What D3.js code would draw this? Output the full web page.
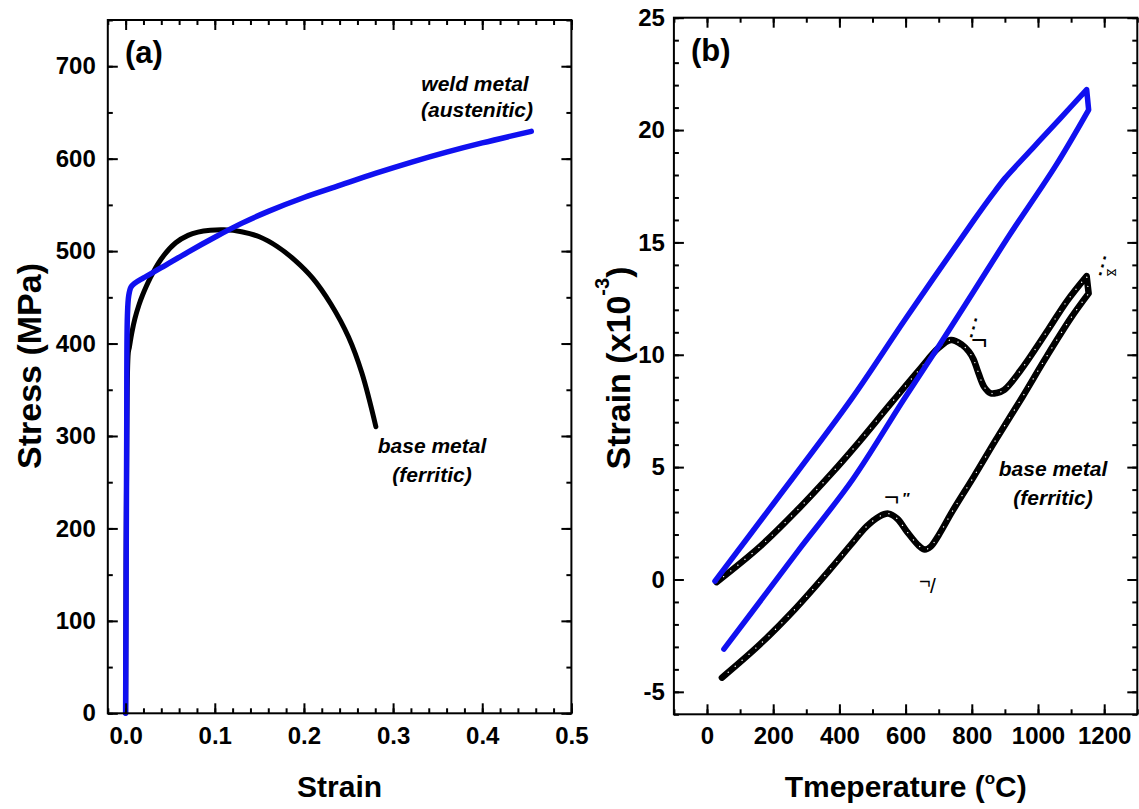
<!DOCTYPE html>
<html><head><meta charset="utf-8">
<script src="https://cdn.jsdelivr.net/npm/d3@7"></script>
<style>
html,body{margin:0;padding:0;background:#fff;}
svg{display:block;font-family:"Liberation Sans",Arial,Helvetica,sans-serif;}
</style></head><body>
<svg id="chart" width="1139" height="809"></svg>
<script>
// ---------- Panel (a): engineering stress-strain ----------
const weldStrain = [0, 0.0012, 0.002, 0.0035, 0.006, 0.01, 0.02, 0.04, 0.07, 0.10, 0.13, 0.16, 0.20, 0.24, 0.28, 0.32, 0.36, 0.40, 0.455];
const weldStress = [0, 300, 430, 452, 461, 465, 471, 482, 499, 515, 530, 543, 558, 571, 584, 596, 607, 617, 629.5];
const baseStrain = [0, 0.0013, 0.003, 0.0042, 0.007, 0.0104, 0.015, 0.0188, 0.0271, 0.0395, 0.0562, 0.07, 0.0811, 0.095, 0.1102, 0.13, 0.15, 0.17, 0.19, 0.21, 0.23, 0.25, 0.265, 0.2807];
const baseStress = [0, 300, 390, 396, 412, 427, 442, 452, 470, 491, 509, 517, 520.5, 522.5, 523, 521, 515.5, 505, 490, 470.5, 443, 407, 368, 310];

// ---------- Panel (b): dilatometry (strain x10^-3 vs temperature) ----------
const weldHeatT   = [24, 200, 435, 600, 807, 860, 900, 940, 1000, 1066, 1147];
const weldHeatDil = [-0.07, 3.36, 8.0, 11.6, 16.0, 17.08, 17.85, 18.5, 19.45, 20.5, 21.8];
const weldCoolT   = [1153, 1055, 915, 807, 699, 594, 440, 278, 200, 51];
const weldCoolDil = [20.9, 18.45, 15.35, 12.85, 10.36, 8.0, 4.45, 1.33, -0.2, -3.1];
const baseHeatT   = [29, 159, 267, 375, 461, 548, 645, 699, 737, 770, 791, 805, 817, 837, 857, 875, 898, 948, 1030, 1088, 1147];
const baseHeatDil = [-0.12, 1.45, 3.0, 4.7, 6.15, 7.7, 9.4, 10.3, 10.66, 10.45, 10.14, 9.8, 9.32, 8.58, 8.29, 8.3, 8.44, 9.32, 11.1, 12.4, 13.5];
const baseCoolT   = [1153, 1100, 1023, 952, 872, 807, 742, 699, 675, 658, 640, 603, 575, 548, 520, 483, 432, 375, 267, 159, 45];
const baseCoolDil = [12.73, 11.65, 9.85, 8.1, 6.2, 4.6, 3.05, 1.95, 1.45, 1.33, 1.5, 2.15, 2.7, 2.93, 2.8, 2.37, 1.5, 0.5, -1.3, -2.9, -4.37];

// ---------- ticks ----------
const aXTicks = [0, 0.1, 0.2, 0.3, 0.4, 0.5];
const aXTickLabels = ["0.0", "0.1", "0.2", "0.3", "0.4", "0.5"];
const aYTicks = [0, 100, 200, 300, 400, 500, 600, 700];
const aYTickLabels = ["0", "100", "200", "300", "400", "500", "600", "700"];
const bXTicks = [0, 200, 400, 600, 800, 1000, 1200];
const bXTickLabels = ["0", "200", "400", "600", "800", "1000", "1200"];
const bYTicks = [-5, 0, 5, 10, 15, 20, 25];
const bYTickLabels = ["-5", "0", "5", "10", "15", "20", "25"];

const BLUE = "#1010f0";
const svg = d3.select("#chart");

const xA = d3.scaleLinear().domain([-0.02, 0.5]).range([107.8, 571.4]);
const yA = d3.scaleLinear().domain([0, 750]).range([713.3, 20]);
const xB = d3.scaleLinear().domain([-100, 1300]).range([673.9, 1137.3]);
const yB = d3.scaleLinear().domain([-6, 25]).range([714.3, 17.7]);

function styleAxis(g){
  g.select(".domain").remove();
  g.selectAll(".tick line").attr("stroke","#000").attr("stroke-width",2);
  g.selectAll(".tick text").style("font-size","24px").style("font-weight","bold")
    .style("font-family",'"Liberation Sans",Arial,sans-serif').attr("fill","#000");
}

function frame(x, y, xMaj, xLab, xMin, yMaj, yLab, yMin, xPad, yPad){
  const [x0,x1] = x.range(), [y0,y1] = y.range();
  const g = svg.append("g");
  g.append("g").attr("transform",`translate(0,${y0})`).call(d3.axisBottom(x).tickValues(xMin).tickSize(-5).tickFormat("")).call(styleAxis);
  g.append("g").attr("transform",`translate(0,${y0})`).call(d3.axisBottom(x).tickValues(xMaj).tickSize(-10).tickPadding(xPad).tickFormat((d,i)=>xLab[i])).call(styleAxis);
  g.append("g").attr("transform",`translate(0,${y1})`).call(d3.axisTop(x).tickValues(xMin).tickSize(-5).tickFormat("")).call(styleAxis);
  g.append("g").attr("transform",`translate(0,${y1})`).call(d3.axisTop(x).tickValues(xMaj).tickSize(-10).tickFormat("")).call(styleAxis);
  g.append("g").attr("transform",`translate(${x0},0)`).call(d3.axisLeft(y).tickValues(yMin).tickSize(-5).tickFormat("")).call(styleAxis);
  g.append("g").attr("transform",`translate(${x0},0)`).call(d3.axisLeft(y).tickValues(yMaj).tickSize(-10).tickPadding(yPad).tickFormat((d,i)=>yLab[i])).call(styleAxis);
  g.append("g").attr("transform",`translate(${x1},0)`).call(d3.axisRight(y).tickValues(yMin).tickSize(-5).tickFormat("")).call(styleAxis);
  g.append("g").attr("transform",`translate(${x1},0)`).call(d3.axisRight(y).tickValues(yMaj).tickSize(-10).tickFormat("")).call(styleAxis);
  g.append("rect").attr("x",x0).attr("y",y1).attr("width",x1-x0).attr("height",y0-y1)
    .attr("fill","none").attr("stroke","#000").attr("stroke-width",2);
}

// ---- curves ----
const lineA = d3.line().x(d=>xA(d[0])).y(d=>yA(d[1])).curve(d3.curveCatmullRom.alpha(0.5));
const lineB = d3.line().x(d=>xB(d[0])).y(d=>yB(d[1])).curve(d3.curveCatmullRom.alpha(0.5));
const zip = (a,b) => a.map((v,i)=>[v,b[i]]);

svg.append("path").attr("d", lineA(zip(baseStrain, baseStress))).attr("fill","none").attr("stroke","#000").attr("stroke-width",5).attr("stroke-linecap","round");
svg.append("path").attr("d", lineA(zip(weldStrain, weldStress))).attr("fill","none").attr("stroke",BLUE).attr("stroke-width",5.5).attr("stroke-linecap","round").attr("stroke-linejoin","round");

// heating curve, straight drop at max temperature, cooling curve
function loopPath(hT, hD, cT, cD){
  return lineB(zip(hT,hD)) + lineB(zip(cT,cD)).replace(/^M/, "L");
}
const basePath = loopPath(baseHeatT, baseHeatDil, baseCoolT, baseCoolDil);
const weldPath = loopPath(weldHeatT, weldHeatDil, weldCoolT, weldCoolDil);
svg.append("path").attr("d", basePath).attr("fill","none").attr("stroke","#000").attr("stroke-width",6.5).attr("stroke-linecap","round").attr("stroke-linejoin","round");
svg.append("path").attr("d", basePath).attr("fill","none").attr("stroke","#fff").attr("stroke-width",1.3).attr("stroke-linecap","round").attr("stroke-dasharray","0.1 9");
svg.append("path").attr("d", weldPath).attr("fill","none").attr("stroke",BLUE).attr("stroke-width",5.5).attr("stroke-linecap","round").attr("stroke-linejoin","round");

// ---- frames ----
const aXMinor = d3.range(-0.02, 0.5001, 0.02);
const aYMinor = d3.range(0, 750.1, 50);
const bXMinor = d3.range(-100, 1300.1, 100);
const bYMinor = d3.range(-6, 25.01, 1);
frame(xA, yA, aXTicks, aXTickLabels, aXMinor, aYTicks, aYTickLabels, aYMinor, 14, 12);
frame(xB, yB, bXTicks, bXTickLabels, bXMinor, bYTicks, bYTickLabels, bYMinor, 13, 9);

// ---- texts ----
function txt(x, y, s, size, opts={}){
  const t = svg.append("text").attr("x",x).attr("y",y).text(s)
    .attr("font-size",size).attr("font-weight",opts.weight||"bold")
    .attr("font-style",opts.style||"normal").attr("text-anchor",opts.anchor||"start").attr("fill","#000");
  if(opts.family) t.attr("font-family",opts.family);
  if(opts.transform) t.attr("transform",opts.transform);
  return t;
}
txt(339.6, 796.7, "Strain", 30, {anchor:"middle"});
txt(0, 0, "Stress (MPa)", 34, {anchor:"middle", transform:"translate(41,366) rotate(-90)"});
const tb = txt(905.7, 796.7, "Tmeperature (", 30, {anchor:"middle"});
tb.append("tspan").attr("font-size",17).attr("dy",-13).text("o");
tb.append("tspan").attr("dy",13).text("C)");
const ty = txt(0, 0, "Strain (x10", 34, {anchor:"middle", transform:"translate(630,368) rotate(-90)"});
ty.append("tspan").attr("font-size",20).attr("dy",-21).text("-3");
ty.append("tspan").attr("dy",21).text(")");

txt(125, 63, "(a)", 31);
txt(691, 61, "(b)", 31);

txt(475, 90.7, "weld metal", 21, {anchor:"middle", style:"italic"});
txt(477, 117, "(austenitic)", 21, {anchor:"middle", style:"italic"});
txt(432, 453.3, "base metal", 21, {anchor:"middle", style:"italic"});
txt(432, 482, "(ferritic)", 21, {anchor:"middle", style:"italic"});
txt(1053, 476, "base metal", 21, {anchor:"middle", style:"italic"});
txt(1053, 505, "(ferritic)", 21, {anchor:"middle", style:"italic"});

// transformation-point glyphs (as rendered in the source figure)
txt(884, 506, "\u00AC", 26, {weight:"normal"});
txt(902, 503, "\u2033", 15, {style:"italic"});
txt(919, 588, "\u00AC", 20, {weight:"normal"});
txt(930, 593, "/", 21, {weight:"normal"});
txt(0, 0, "\u22EE", 24, {weight:"normal", family:"DejaVu Sans", transform:"translate(960,332) rotate(15)"});
txt(971, 349, "\u00AC", 28, {weight:"normal"});
txt(0, 0, "\u22EE", 24, {weight:"normal", family:"DejaVu Sans", transform:"translate(1089,270) rotate(15)"});
txt(1106, 276, "\u22C8", 11, {weight:"normal", family:"DejaVu Sans"});
</script>
</body></html>
